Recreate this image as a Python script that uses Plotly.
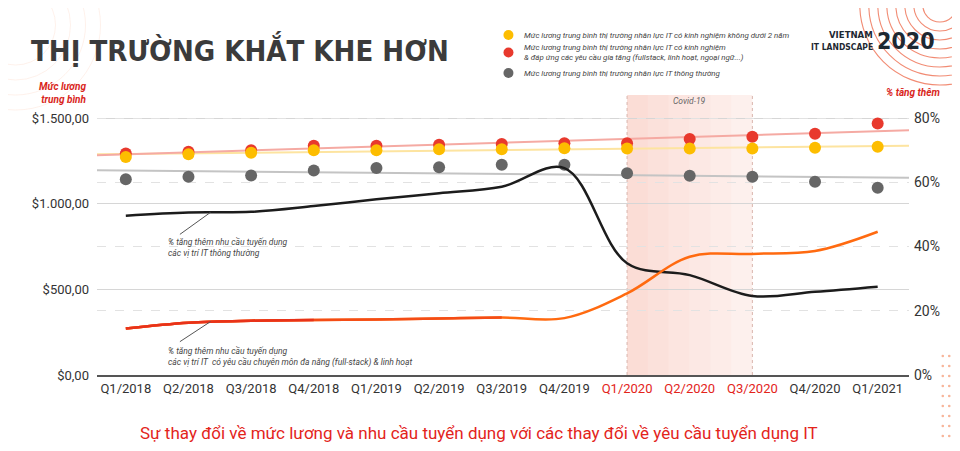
import numpy as np
import plotly.graph_objects as go

quarters = ["Q1/2018", "Q2/2018", "Q3/2018", "Q4/2018", "Q1/2019", "Q2/2019", "Q3/2019",
            "Q4/2019", "Q1/2020", "Q2/2020", "Q3/2020", "Q4/2020", "Q1/2021"]
covid_quarters = ["Q1/2020", "Q2/2020", "Q3/2020"]

# muc luong trung binh ($)
salary_experienced = [1273, 1289, 1297, 1312, 1312, 1317, 1318, 1324, 1322, 1322, 1322, 1326, 1332]
salary_advanced = [1293, 1303, 1312, 1338, 1338, 1344, 1348, 1353, 1352, 1377, 1390, 1408, 1468]
salary_regular = [1143, 1157, 1165, 1194, 1208, 1212, 1227, 1227, 1177, 1163, 1157, 1128, 1093]

# % tang them nhu cau tuyen dung
demand_regular = [49.6, 50.6, 50.8, 52.6, 54.7, 56.6, 58.6, 64.4, 34.8, 31.1, 24.6, 25.9, 27.5]
demand_fullstack = [14.5, 16.3, 16.9, 17.1, 17.3, 17.6, 17.9, 17.7, 25.4, 36.8, 37.7, 38.6, 44.6]

left_ticks = [0, 500, 1000, 1500]
left_ticktext = ["$0,00", "$500,00", "$1.000,00", "$1.500,00"]
right_ticks = [0, 20, 40, 60, 80]
right_ticktext = ["0%", "20%", "40%", "60%", "80%"]

RED = "#e3241b"
YELLOW = "#fdbd00"
REDDOT = "#e8392d"
GRAY = "#666666"
NARROW = "DejaVu Sans Condensed, DejaVu Sans, sans-serif"

# the page puts an 8px margin round the figure, so the figure is 16px smaller
W, H = 944, 435
L, R, T, B = 89, 38, 87, 68
PW, PH = W - L - R, H - T - B


def px(x):
    # x in reference pixels -> paper
    return (x - 8 - L) / PW


def py(y):
    return (H - B - (y - 8)) / PH


xi = np.arange(len(quarters))
x_lo, x_hi = -0.46, 12.5
trend_x = np.array([x_lo, x_hi])

fig = go.Figure()

# trendlines
for vals, col in [(salary_regular, "#c4c4c4"), (salary_experienced, "#fde4a0"), (salary_advanced, "#f5aaa3")]:
    k, b = np.polyfit(xi, vals, 1)
    fig.add_trace(go.Scatter(x=trend_x, y=k * trend_x + b, mode="lines",
                             line=dict(color=col, width=2), hoverinfo="skip"))

fig.add_trace(go.Scatter(x=xi, y=salary_regular, mode="markers", marker=dict(color=GRAY, size=12)))
fig.add_trace(go.Scatter(x=xi, y=salary_advanced, mode="markers", marker=dict(color=REDDOT, size=12)))
fig.add_trace(go.Scatter(x=xi, y=salary_experienced, mode="markers", marker=dict(color=YELLOW, size=12)))

fig.add_trace(go.Scatter(x=xi, y=demand_regular, yaxis="y2", mode="lines",
                         line=dict(color="#1c1c1c", width=2.5, shape="spline", smoothing=1)))
# orange line fades from red on the left
for n, col in [(len(xi), "#ff6a10"), (7, "#f44c16"), (4, "#e8321a")]:
    fig.add_trace(go.Scatter(x=xi[:n], y=demand_fullstack[:n], yaxis="y2", mode="lines",
                             line=dict(color=col, width=2.5, shape="spline", smoothing=1)))

ticktext = [f"<span style='color:{RED}'>{q}</span>" if q in covid_quarters else q for q in quarters]

c0 = quarters.index(covid_quarters[0])
c1 = quarters.index(covid_quarters[-1])

shapes = []
# covid band, pinker on the left
steps = 6
for i in range(steps):
    a = 0.45 - 0.05 * i
    shapes.append(dict(type="rect", xref="x", yref="paper",
                       x0=c0 + (c1 - c0) * i / steps, x1=c0 + (c1 - c0) * (i + 1) / steps, y0=0, y1=1,
                       fillcolor=f"rgba(246,180,165,{a:.3f})", line=dict(width=0), layer="below"))
for cx in (c0, c1):
    shapes.append(dict(type="line", xref="x", yref="paper", x0=cx, x1=cx, y0=0, y1=1,
                       line=dict(color="#d9b4ad", width=1, dash="dot"), layer="below"))

# decorative rings (top right)
for r in [17, 26, 35, 44, 53, 62, 71, 80]:
    shapes.append(dict(type="circle", xref="paper", yref="paper", xsizemode="pixel", ysizemode="pixel",
                       xanchor=px(945), yanchor=py(5), x0=-r, x1=r, y0=-r, y1=r,
                       line=dict(color="rgba(238,110,80,0.8)", width=1.1), layer="below"))
for r in [40, 55, 70, 85]:
    shapes.append(dict(type="circle", xref="paper", yref="paper", xsizemode="pixel", ysizemode="pixel",
                       xanchor=px(15), yanchor=py(25), x0=-r, x1=r, y0=-r, y1=r,
                       line=dict(color="rgba(245,160,120,0.15)", width=1), layer="below"))
# dotted pattern (bottom right)
for cx in [948, 954.5]:
    for cy in range(356, 452, 10):
        shapes.append(dict(type="circle", xref="paper", yref="paper", xsizemode="pixel", ysizemode="pixel",
                           xanchor=px(cx), yanchor=py(cy), x0=-1.3, x1=1.3, y0=-1.3, y1=1.3,
                           fillcolor="#f7b59a", line=dict(width=0)))

# legend
legend_items = [
    (YELLOW, 35, "Mức lương trung bình thị trường nhân lực IT có kinh nghiệm không dưới 2 năm"),
    (REDDOT, 52.5, "Mức lương trung bình thị trường nhân lực IT có kinh nghiệm<br>"
                   "& đáp ứng các yêu cầu gia tăng (fullstack, linh hoạt, ngoại ngữ...)"),
    (GRAY, 73, "Mức lương trung bình thị trường nhân lực IT thông thường"),
]
annotations = []
for col, ly, txt in legend_items:
    shapes.append(dict(type="circle", xref="paper", yref="paper", xsizemode="pixel", ysizemode="pixel",
                       xanchor=px(511), yanchor=py(ly), x0=-5, x1=5, y0=-5, y1=5,
                       fillcolor=col, line=dict(width=0)))
    annotations.append(dict(xref="paper", yref="paper", x=px(525), y=py(ly),
                            xanchor="left", yanchor="middle", align="left", showarrow=False,
                            text=f"<i>{txt}</i>", font=dict(size=7.9, color="#444444")))

annotations += [
    dict(xref="paper", yref="paper", x=px(29), y=py(50), xanchor="left", yanchor="middle",
         showarrow=False, text="<b>THỊ TRƯỜNG KHẮT KHE HƠN</b>",
         font=dict(family=NARROW, size=29, color="#3b3b3b")),
    dict(xref="paper", yref="paper", x=px(880), y=py(34), xanchor="right", yanchor="middle",
         showarrow=False, text="<b>VIETNAM</b>", font=dict(family=NARROW, size=9.5, color="#1e2832")),
    dict(xref="paper", yref="paper", x=px(880), y=py(47.5), xanchor="right", yanchor="middle",
         showarrow=False, text="<b>IT LANDSCAPE</b>", font=dict(family=NARROW, size=8.5, color="#1e2832")),
    dict(xref="paper", yref="paper", x=px(880), y=py(41), xanchor="left", yanchor="middle",
         showarrow=False, text="<b>2020</b>", font=dict(family=NARROW, size=23, color="#1e2832")),
    dict(xref="paper", yref="paper", x=px(89), y=py(93), xanchor="right", yanchor="middle",
         align="right", showarrow=False, text="<b><i>Mức lương<br>trung bình</i></b>",
         font=dict(size=10, color="#d9261c")),
    dict(xref="paper", yref="paper", x=px(947), y=py(92), xanchor="right", yanchor="middle",
         showarrow=False, text="<b><i>% tăng thêm</i></b>", font=dict(size=10, color="#d9261c")),
    dict(xref="x", yref="paper", x=(c0 + c1) / 2, y=py(101), xanchor="center", yanchor="middle",
         showarrow=False, text="<i>Covid-19</i>", font=dict(size=8.5, color="#666666")),
    dict(xref="paper", yref="paper", x=px(481), y=py(433), xanchor="center", yanchor="middle",
         showarrow=False,
         text="Sự thay đổi về mức lương và nhu cầu tuyển dụng với các thay đổi về yêu cầu tuyển dụng IT",
         font=dict(size=17, color=RED)),
    dict(xref="paper", yref="paper", x=px(166), y=py(247.5), xanchor="left", yanchor="middle",
         align="left", showarrow=False,
         text="<i>% tăng thêm nhu cầu tuyến dụng<br>các vị trí IT thông thường</i>",
         font=dict(size=8.5, color="#444444")),
    dict(xref="paper", yref="paper", x=px(166), y=py(356.5), xanchor="left", yanchor="middle",
         align="left", showarrow=False,
         text="<i>% tăng thêm nhu cầu tuyến dụng<br>"
              "các vị trí IT  có yêu cầu chuyên môn đa năng (full-stack) & linh hoạt</i>",
         font=dict(size=8.5, color="#444444")),
    dict(xref="x", yref="y2", x=1.35, y=50.6, ax=-32, ay=23, text="", showarrow=True,
         arrowhead=0, arrowwidth=1, arrowcolor="#555555"),
    dict(xref="x", yref="y2", x=1.35, y=16.6, ax=-32, ay=21, text="", showarrow=True,
         arrowhead=0, arrowwidth=1, arrowcolor="#555555"),
]

fig.update_traces(showlegend=False)
fig.update_layout(
    width=W, height=H,
    margin=dict(l=L, r=R, t=T, b=B),
    paper_bgcolor="white", plot_bgcolor="white",
    font=dict(family="Roboto", color="#333333"),
    showlegend=False,
    xaxis=dict(range=[x_lo, x_hi], tickvals=list(xi), ticktext=ticktext, showgrid=False,
               zeroline=False, showline=True, linecolor="#555555", linewidth=2,
               tickfont=dict(size=13, color="#333333")),
    yaxis=dict(range=[0, 1500 * PH / 257], tickvals=left_ticks, ticktext=left_ticktext,
               showgrid=True, gridcolor="#d6d6d6", gridwidth=1, zeroline=False,
               ticklabelstandoff=7, tickfont=dict(size=13, color="#333333")),
    yaxis2=dict(range=[0, 80 * PH / 257], tickvals=right_ticks, ticktext=right_ticktext, overlaying="y",
                side="right", showgrid=True, gridcolor="#e2e2e2", griddash="dash", zeroline=False,
                ticklabelstandoff=4, tickfont=dict(size=14, color="#333333")),
    shapes=shapes,
    annotations=annotations,
)

fig.write_html("out.html")
